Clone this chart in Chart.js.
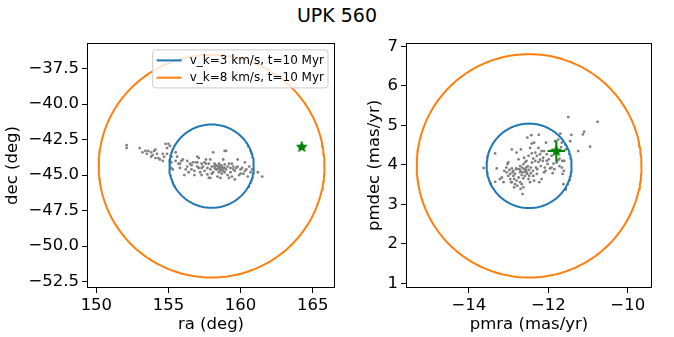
<!DOCTYPE html>
<html><head><meta charset="utf-8">
<script src="https://cdn.jsdelivr.net/npm/chart.js@4/dist/chart.umd.min.js"></script>
<style>
html,body{margin:0;padding:0;background:#fff;}
#wrap{position:relative;width:674px;height:337px;overflow:hidden;background:#fff;}
#title{position:absolute;left:0;top:3px;width:674px;text-align:center;font:19px "DejaVu Sans";color:#000;line-height:24px;}
.box{position:absolute;top:30px;height:307px;}
#c1box{left:0;width:345px;}
#c2box{left:345px;width:329px;}
</style></head><body>
<div id="wrap"><div id="title">UPK 560</div>
<div class="box" id="c1box"><canvas id="c1"></canvas></div>
<div class="box" id="c2box"><canvas id="c2"></canvas></div></div>
<script>
// ---------- data ----------
const figTitle = 'UPK 560';
const circleLabels = ['v_k=3 km/s, t=10 Myr', 'v_k=8 km/s, t=10 Myr'];
const circleColors = ['#1f77b4', '#ff7f0e'];

// left panel: positions (ra, dec) of members
const posMembers = [
[152.1,-42.9],[152.1,-43.1],[153.0,-43.1],[153.2,-43.4],[153.4,-43.3],[153.5,-43.5],[153.6,-43.3],[153.8,-43.4],
[153.9,-43.6],[154.0,-43.3],[154.1,-43.2],[154.2,-43.5],[154.3,-43.8],[154.4,-43.9],[154.6,-44.0],[154.7,-43.7],
[154.8,-42.8],[154.9,-43.1],[155.0,-42.8],[155.1,-42.95],[154.9,-43.5],[155.1,-44.0],[155.2,-43.7],[155.2,-44.1],
[155.2,-44.5],[155.3,-44.6],[155.5,-43.4],[155.6,-43.7],[155.7,-44.2],[155.8,-44.5],[155.9,-44.0],[156.0,-43.9],
[156.1,-45.0],[156.3,-44.0],[156.3,-44.4],[156.4,-44.8],[156.5,-44.2],[156.6,-44.6],[156.7,-44.1],[156.8,-44.7],
[156.9,-44.1],[157.0,-44.4],[157.0,-43.7],[157.1,-43.8],[157.1,-44.5],[157.2,-44.8],[157.3,-44.2],[157.3,-44.5],
[157.4,-44.4],[157.5,-44.1],[157.5,-44.7],[157.6,-44.2],[157.7,-44.5],[157.7,-44.95],[157.8,-45.2],[157.8,-44.2],
[157.9,-44.6],[158.0,-44.4],[158.1,-44.8],[158.1,-43.4],[158.2,-44.5],[158.2,-44.2],[158.3,-44.6],[158.4,-45.1],
[158.4,-44.4],[158.5,-44.2],[158.5,-44.55],[158.6,-44.7],[158.6,-44.3],[158.7,-44.6],[158.7,-44.9],[158.8,-43.9],
[158.8,-44.5],[158.9,-43.3],[159.0,-44.6],[159.0,-43.3],[159.1,-44.4],[159.1,-45.0],[159.2,-44.2],[159.3,-44.8],
[159.3,-44.5],[159.4,-45.1],[159.4,-44.2],[159.5,-44.4],[159.6,-44.7],[159.6,-45.3],[159.7,-44.5],[159.8,-43.9],
[159.8,-44.4],[159.9,-45.0],[160.0,-44.6],[160.0,-44.9],[160.1,-44.5],[160.2,-44.9],[160.3,-44.1],[160.4,-44.6],
[160.5,-45.1],[160.6,-44.4],[160.7,-44.8],[160.8,-44.6],[161.2,-44.8],[161.5,-45.1],
[158.3,-44.3],[158.4,-44.6],[158.5,-44.4],[158.6,-44.5],[158.65,-44.45],[158.7,-44.35],[158.8,-44.7],[158.9,-44.5],
[158.5,-44.8],[158.9,-44.25],[158.2,-44.35],[158.0,-44.9],[157.9,-45.2],[158.6,-45.2],[159.2,-45.2],[157.3,-45.0],
[156.8,-45.0],[156.2,-44.6],[155.8,-44.2],[155.5,-44.0],[154.6,-43.5],[154.1,-43.8],[153.8,-43.7],[157.9,-43.9],
[157.6,-43.9],[157.0,-44.1],[156.6,-44.3],[158.9,-44.8],[159.5,-44.6],[160.3,-44.7]
];

// right panel: proper motions (pmra, pmdec) of members
const pmMembers = [
[-13.63,3.92],[-13.34,4.29],[-13.34,3.57],[-13.30,3.91],[-13.17,3.68],[-13.11,3.85],[-13.06,3.93],[-13.03,4.02],
[-13.01,4.06],[-12.98,3.87],[-12.96,3.64],[-12.94,3.56],[-12.92,4.39],[-12.92,3.91],[-12.90,3.81],[-12.88,3.72],
[-12.86,3.43],[-12.84,3.77],[-12.81,3.91],[-12.80,4.31],[-12.80,3.60],[-12.78,3.47],[-12.75,3.68],[-12.73,3.89],
[-12.71,3.81],[-12.70,3.39],[-12.69,4.39],[-12.67,3.74],[-12.66,3.93],[-12.65,3.26],[-12.63,4.02],[-12.63,3.66],
[-12.61,3.89],[-12.59,3.82],[-12.58,4.07],[-12.56,3.93],[-12.55,3.81],[-12.53,4.69],[-12.52,3.96],[-12.50,4.23],
[-12.49,3.87],[-12.48,3.72],[-12.46,4.43],[-12.44,3.93],[-12.43,4.75],[-12.42,4.54],[-12.41,4.06],[-12.39,3.85],
[-12.38,4.16],[-12.36,4.56],[-12.36,3.60],[-12.33,4.10],[-12.31,3.93],[-12.29,4.23],[-12.28,3.89],[-12.25,4.07],
[-12.24,4.76],[-12.23,3.56],[-12.21,4.13],[-12.19,3.97],[-12.17,3.64],[-12.14,4.10],[-12.13,4.18],[-12.11,3.81],
[-12.09,3.93],[-12.07,3.85],[-12.06,4.56],[-12.04,4.10],[-12.02,4.02],[-11.99,4.14],[-11.96,3.91],[-11.92,3.93],
[-11.89,3.79],[-11.87,4.03],[-11.85,3.89],[-11.79,4.06],[-11.75,4.12],[-11.72,4.16],[-11.70,4.79],[-11.68,4.45],
[-11.65,4.10],[-11.64,3.77],[-11.62,3.51],[-11.60,4.10],[-11.57,3.37],[-11.56,4.39],[-11.50,5.21],[-11.45,4.60],
[-11.42,4.76],[-11.25,4.35],[-11.13,4.77],[-11.10,4.84],[-10.95,4.46],[-10.76,5.09],[-11.83,4.60],[-11.75,4.64],
[-12.04,4.27],[-12.11,4.35],[-11.92,4.23],[-12.21,4.27],[-12.42,4.29],[-12.55,4.10],[-12.61,4.18],[-12.67,3.51],
[-12.84,3.51],[-12.96,3.77],[-13.05,3.81],[-13.22,3.64],[-13.13,3.56],[-12.71,3.97],[-12.75,4.14],[-12.59,3.72],
[-12.50,3.64],[-12.44,3.79],[-12.38,3.72],[-12.29,3.77],[-12.56,3.87],[-12.53,3.77],[-12.65,3.81],[-12.70,3.85],
[-12.80,3.89],[-12.88,3.85],[-13.01,3.72],[-12.92,3.56],[-12.86,3.64],[-12.63,3.43],[-12.71,3.56],[-12.46,3.56],
[-12.33,4.31],[-12.17,4.35],[-12.25,4.43],[-11.71,4.35],[-11.66,4.56],[-11.79,4.35],[-11.61,3.85],[-11.66,3.93],
[-11.72,3.97]
];

// circle centres and radii
const posCenter = [157.99, -44.37];
const posRadii = [2.93, 7.83];
const pmCenter = [-12.485, 3.975];
const pmRadii = [1.07, 2.83];

// the green star with error bars
const starPos = [164.24, -43.02];
const starPosErr = [0.25, 0.2];
const starPm = [-11.80, 4.35];
const starPmErr = [0.22, 0.27];

// axes ranges and ticks
const posXRange = [149.35, 166.55];
const posYRange = [-52.94, -35.70];
const posXTicks = [150, 155, 160, 165];
const posXTickLabels = ['150', '155', '160', '165'];
const posYTicks = [-37.5, -40, -42.5, -45, -47.5, -50, -52.5];
const posYTickLabels = ['\u221237.5', '\u221240.0', '\u221242.5', '\u221245.0', '\u221247.5', '\u221250.0', '\u221252.5'];
const pmXRange = [-15.585, -9.39];
const pmYRange = [0.88, 7.09];
const pmXTicks = [-14, -12, -10];
const pmXTickLabels = ['\u221214', '\u221212', '\u221210'];
const pmYTicks = [1, 2, 3, 4, 5, 6, 7];
const pmYTickLabels = ['1', '2', '3', '4', '5', '6', '7'];
const axisTitles = {posX: 'ra (deg)', posY: 'dec (deg)', pmX: 'pmra (mas/yr)', pmY: 'pmdec (mas/yr)'};

// ---------- helpers ----------
const FONT = '"DejaVu Sans", sans-serif';
function circlePts(c, r) {
  const pts = [];
  for (let a = 0; a <= 360; a += 2) {
    const t = a * Math.PI / 180;
    pts.push({x: c[0] + r * Math.cos(t), y: c[1] + r * Math.sin(t)});
  }
  return pts;
}
function starImage(size, color) {
  const cv = document.createElement('canvas');
  cv.width = size; cv.height = size;
  const g = cv.getContext('2d');
  const cx = size / 2, cy = size / 2, R = size / 2 - 0.5, r = R * 0.42;
  g.beginPath();
  for (let i = 0; i < 10; i++) {
    const rad = i % 2 === 0 ? R : r;
    const ang = -Math.PI / 2 + i * Math.PI / 5;
    const px = cx + rad * Math.cos(ang), py = cy + rad * Math.sin(ang);
    if (i === 0) g.moveTo(px, py); else g.lineTo(px, py);
  }
  g.closePath();
  g.fillStyle = color; g.fill();
  g.strokeStyle = color; g.lineWidth = 1; g.stroke();
  return cv;
}
const starImg = starImage(12, '#008000');

const frameLegendPlugin = {
  id: 'frameLegend',
  afterDatasetsDraw(chart, args, opts) {
    const ctx = chart.ctx, a = chart.chartArea;
    ctx.save();
    ctx.strokeStyle = '#000'; ctx.lineWidth = 1;
    ctx.strokeRect(Math.round(a.left) + 0.5, Math.round(a.top) + 0.5,
      Math.round(a.right - a.left) - 1, Math.round(a.bottom - a.top) - 1);
    if (opts && opts.items) {
      ctx.font = '12px ' + FONT;
      const tw = Math.max(...opts.items.map(it => ctx.measureText(it.text).width));
      const w = 4 + 25 + 8 + tw + 4;
      const h = 38;
      const x0 = a.right - 7 - w, y0 = a.top + 7;
      const rr = 3;
      ctx.beginPath();
      ctx.moveTo(x0 + rr, y0); ctx.lineTo(x0 + w - rr, y0); ctx.quadraticCurveTo(x0 + w, y0, x0 + w, y0 + rr);
      ctx.lineTo(x0 + w, y0 + h - rr); ctx.quadraticCurveTo(x0 + w, y0 + h, x0 + w - rr, y0 + h);
      ctx.lineTo(x0 + rr, y0 + h); ctx.quadraticCurveTo(x0, y0 + h, x0, y0 + h - rr);
      ctx.lineTo(x0, y0 + rr); ctx.quadraticCurveTo(x0, y0, x0 + rr, y0);
      ctx.closePath();
      ctx.fillStyle = 'rgba(255,255,255,0.8)'; ctx.fill();
      ctx.strokeStyle = '#cccccc'; ctx.lineWidth = 1; ctx.stroke();
      opts.items.forEach((it, i) => {
        const yy = y0 + 10.5 + i * 17.3;
        ctx.strokeStyle = it.color; ctx.lineWidth = 2;
        ctx.beginPath(); ctx.moveTo(x0 + 4, yy); ctx.lineTo(x0 + 29, yy); ctx.stroke();
        ctx.fillStyle = '#000'; ctx.textBaseline = 'middle'; ctx.textAlign = 'left';
        ctx.fillText(it.text, x0 + 37, yy + 0.5);
      });
    }
    ctx.restore();
  }
};

function makeScale(range, ticks, labels, title, isX, fitSize, titlePad) {
  return {
    type: 'linear', min: range[0], max: range[1],
    afterBuildTicks: s => { s.ticks = ticks.map(v => ({value: v})); },
    afterFit: s => { if (isX) s.height = fitSize; else s.width = fitSize; },
    grid: {drawOnChartArea: false, drawTicks: true, tickLength: 5, tickColor: '#000', lineWidth: 1},
    border: {display: false},
    ticks: {
      autoSkip: false, maxRotation: 0, minRotation: 0, padding: 3, color: '#000',
      font: {family: FONT, size: 16.5},
      callback: (v) => { const i = ticks.indexOf(v); return i >= 0 ? labels[i] : ''; }
    },
    title: {display: true, text: title, color: '#000', font: {family: FONT, size: 16.5}, padding: titlePad}
  };
}

function buildChart(id, members, center, radii, star, starErr, xr, yr, xt, xtl, yt, ytl, xTitle, yTitle, yWidth, yTitlePad, padRight, legend) {
  const datasets = [];
  datasets.push({type: 'scatter', label: 'members', data: members.map(p => ({x: p[0], y: p[1]})),
    pointRadius: 1.4, pointBackgroundColor: '#808080', pointBorderWidth: 0, order: 5});
  radii.forEach((r, i) => {
    datasets.push({type: 'line', label: circleLabels[i], data: circlePts(center, r), borderColor: circleColors[i],
      borderWidth: 2, pointRadius: 0, tension: 0, fill: false, order: 4 - i});
  });
  datasets.push({type: 'line', label: 'xerr', data: [{x: star[0] - starErr[0], y: star[1]}, {x: star[0] + starErr[0], y: star[1]}],
    borderColor: '#008000', borderWidth: 2, pointRadius: 0, order: 1});
  datasets.push({type: 'line', label: 'yerr', data: [{x: star[0], y: star[1] - starErr[1]}, {x: star[0], y: star[1] + starErr[1]}],
    borderColor: '#008000', borderWidth: 2, pointRadius: 0, order: 1});
  datasets.push({type: 'scatter', label: 'star', data: [{x: star[0], y: star[1]}], pointStyle: starImg, order: 0});
  return new Chart(document.getElementById(id), {
    type: 'scatter',
    data: {datasets},
    options: {
      responsive: true, maintainAspectRatio: false, animation: false,
      layout: {padding: {top: 11, right: padRight, left: 0, bottom: 0}},
      plugins: {legend: {display: false}, tooltip: {enabled: false},
        frameLegend: legend ? {items: radii.map((r, i) => ({text: circleLabels[i], color: circleColors[i]}))} : {}},
      scales: {
        x: makeScale(xr, xt, xtl, xTitle, true, 49, {top: 2, bottom: 2}),
        y: makeScale(yr, yt, ytl, yTitle, false, yWidth, {top: yTitlePad, bottom: 0})
      }
    },
    plugins: [frameLegendPlugin]
  });
}

document.getElementById('title').textContent = figTitle;
buildChart('c1', posMembers, posCenter, posRadii, starPos, starPosErr, posXRange, posYRange,
  posXTicks, posXTickLabels, posYTicks, posYTickLabels, axisTitles.posX, axisTitles.posY, 87, 3, 10, true);
buildChart('c2', pmMembers, pmCenter, pmRadii, starPm, starPmErr, pmXRange, pmYRange,
  pmXTicks, pmXTickLabels, pmYTicks, pmYTickLabels, axisTitles.pmX, axisTitles.pmY, 61, 20, 22, false);
</script>
</body></html>
